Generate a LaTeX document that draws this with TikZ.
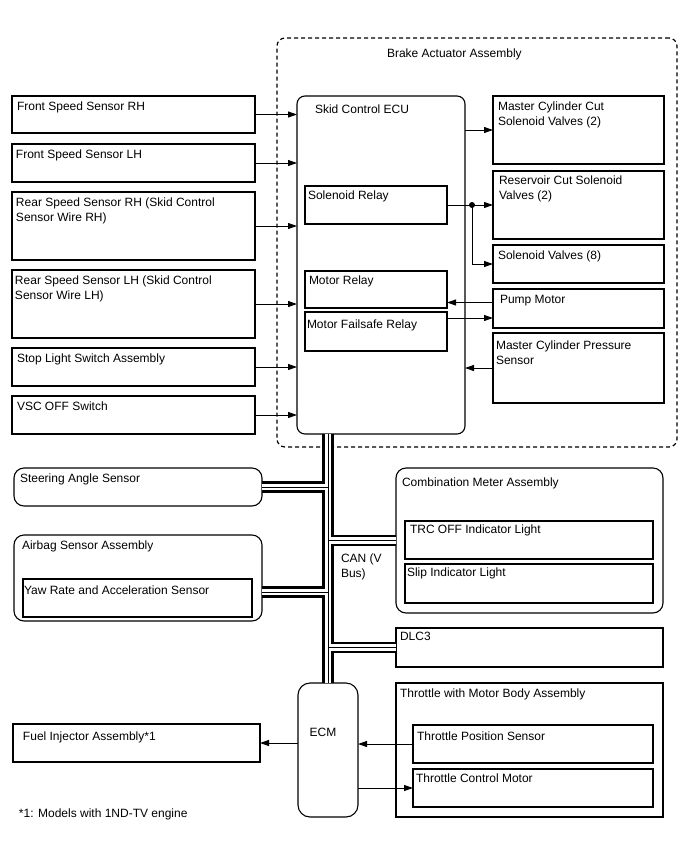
\documentclass[tikz,border=0pt]{standalone}
\usepackage{fontspec}
\setmainfont{Liberation Sans}
\usetikzlibrary{arrows.meta}

\begin{document}
\begin{tikzpicture}[
        x=1pt, y=-1pt,
    line width=1.1pt,
    every node/.style={font=\fontsize{12}{15}\selectfont, outer sep=0pt},
    box/.style={draw, anchor=north west, inner sep=0pt},
    rbox/.style={box, rounded corners=10pt},
    txt/.style={anchor=north west, inner xsep=4pt, inner ysep=6pt, align=left},
    arr/.style={-{Triangle[length=9pt,width=6pt]}, line width=0.9pt},
    bus/.style={line width=11.5pt, postaction={draw=white, line width=6.5pt},
        postaction={draw=black, line width=0.8pt}}
]
\useasboundingbox (0,0) rectangle (688,852);

    \node[rbox, rounded corners=8pt, line width=1.2pt, dash pattern=on 4pt off 3pt,
        minimum width=400pt, minimum height=409pt,
        label={[txt, xshift=106pt, yshift=-4.7pt]north west:Brake Actuator Assembly}] (baa) at (277,38) {};
    \node[rbox, rounded corners=8pt, minimum width=168pt, minimum height=338pt,
        label={[txt, inner xsep=18pt, inner ysep=8.7pt]north west:Skid Control ECU}] (ecu) at (297,96) {};

    \node[box, minimum width=243pt, minimum height=37pt,
        label={[txt, inner xsep=5pt]north west:Front Speed Sensor RH}] (fsrh) at (12,96) {};
    \node[box, minimum width=243pt, minimum height=38pt,
        label={[txt]north west:Front Speed Sensor LH}] (fslh) at (12,144) {};
    \node[box, minimum width=243pt, minimum height=68pt,
        label={[txt]north west:Rear Speed Sensor RH (Skid Control\\Sensor Wire RH)}] (rsrh) at (12,192) {};
    \node[box, minimum width=243pt, minimum height=68pt,
        label={[txt, inner xsep=3pt]north west:Rear Speed Sensor LH (Skid Control\\Sensor Wire LH)}] (rslh) at (12,270) {};
    \node[box, minimum width=243pt, minimum height=38pt,
        label={[txt, inner xsep=5pt]north west:Stop Light Switch Assembly}] (sls) at (12,348) {};
    \node[box, minimum width=243pt, minimum height=38pt,
        label={[txt, inner xsep=5pt]north west:VSC OFF Switch}] (vsc) at (12,396) {};

    \node[box, minimum width=171pt, minimum height=68pt,
        label={[txt, inner xsep=5pt]north west:Master Cylinder Cut\\Solenoid Valves (2)}] (mcc) at (493,96) {};
    \node[box, minimum width=171pt, minimum height=68pt,
        label={[txt, inner xsep=6pt, inner ysep=4.7pt]north west:Reservoir Cut Solenoid\\Valves (2)}] (rcv) at (493,171) {};
    \node[box, minimum width=171pt, minimum height=38pt,
        label={[txt, inner xsep=5pt]north west:Solenoid Valves (8)}] (sv) at (493,245) {};
    \node[box, minimum width=171pt, minimum height=39pt,
        label={[txt, inner xsep=7pt]north west:Pump Motor}] (pm) at (493,289) {};
    \node[box, minimum width=171pt, minimum height=70pt,
        label={[txt, inner xsep=3pt, inner ysep=7.5pt]north west:Master Cylinder Pressure\\Sensor}] (mcps) at (493,333) {};

    \node[box, minimum width=142pt, minimum height=38pt,
        label={[txt, inner xsep=3pt, inner ysep=4.7pt]north west:Solenoid Relay}] (srel) at (305,186) {};
    \node[box, minimum width=142pt, minimum height=37pt,
        label={[txt, inner ysep=4.7pt]north west:Motor Relay}] (mrel) at (305,271) {};
    \node[box, minimum width=142pt, minimum height=39pt,
        label={[txt, inner xsep=2pt, inner ysep=7.5pt]north west:Motor Failsafe Relay}] (mfs) at (305,312) {};

    \node[rbox, minimum width=248pt, minimum height=38pt,
        label={[txt, inner xsep=6pt]north west:Steering Angle Sensor}] (sas) at (14,468) {};
    \node[rbox, minimum width=248pt, minimum height=86pt,
        label={[txt, inner xsep=8pt]north west:Airbag Sensor Assembly}] (asa) at (14,535) {};
    \node[box, minimum width=229pt, minimum height=38pt,
        label={[txt, inner xsep=1pt, inner ysep=6.7pt]north west:Yaw Rate and Acceleration Sensor}] (yaw) at (23,579) {};

    \node[rbox, minimum width=267pt, minimum height=145pt,
        label={[txt, inner xsep=6pt, inner ysep=9.5pt]north west:Combination Meter Assembly}] (cma) at (396,468) {};
    \node[box, minimum width=248pt, minimum height=38pt,
        label={[txt, inner xsep=5pt, inner ysep=3.7pt]north west:TRC OFF Indicator Light}] (trc) at (405,521) {};
    \node[box, minimum width=248pt, minimum height=39pt,
        label={[txt, inner xsep=2pt, inner ysep=3.5pt]north west:Slip Indicator Light}] (slip) at (405,564) {};
    \node[box, minimum width=267pt, minimum height=39pt,
        label={[txt, inner ysep=4.4pt]north west:DLC3}] (dlc) at (396,628) {};

    \node[rbox, rounded corners=12pt, minimum width=60pt, minimum height=134pt,
        label={[txt, anchor=north, xshift=-5pt, yshift=-39pt]north:ECM}] (ecm) at (298,683) {};
    \node[box, minimum width=267pt, minimum height=134pt,
        label={[txt, inner xsep=4pt, inner ysep=5.7pt]north west:Throttle with Motor Body Assembly}] (tmb) at (396,683) {};
    \node[box, minimum width=240pt, minimum height=38pt,
        label={[txt, inner ysep=6.7pt]north west:Throttle Position Sensor}] (tps) at (413,725) {};
    \node[box, minimum width=240pt, minimum height=38pt,
        label={[txt, inner xsep=3pt, inner ysep=4.7pt]north west:Throttle Control Motor}] (tcm) at (413,769) {};
    \node[box, minimum width=247pt, minimum height=38pt,
        label={[txt, inner xsep=10pt, inner ysep=7.5pt]north west:Fuel Injector Assembly*1}] (fia) at (13,724) {};

    \node[txt] (can) at (337,548) {CAN (V\\Bus)};
    \node[anchor=west, inner sep=4pt] (note) at (15,814) {*1: Models with 1ND-TV engine};

    \coordinate (ab) at ([yshift=-14pt]asa.east);
    \draw[bus] (ecm.north) -- (ecm.north |- ecu.south)
        (ecm.north |- sas.east) -- (sas.east)
        (ecm.north |- ab) -- (ab)
        (ecm.north |- cma.west) -- (cma.west)
        (ecm.north |- dlc.west) -- (dlc.west)
    ;

    \foreach \s in {fsrh,fslh,rsrh,rslh,sls,vsc}
        \draw[arr] (\s.east) -- (\s.east -| ecu.west);

    \draw[arr] (mcc.west -| ecu.east) -- (mcc.west);
    \coordinate (jn) at (472,205);
    \draw[arr] (srel.east) -- (rcv.west);
    \draw[arr] (jn) |- (sv.west);
    \fill (jn) circle (3pt);
    \coordinate (pa) at ([yshift=6pt]pm.west);
    \coordinate (pb) at ([yshift=-9.5pt]pm.west);
    \draw[arr] (pa) -- (pa -| mrel.east);
    \draw[arr] (pb -| mfs.east) -- (pb);
    \draw[arr] (mcps.west) -- (mcps.west -| ecu.east);

    \draw[arr] (tps.west) -- (tps.west -| ecm.east);
    \draw[arr] (ecm.east |- tcm.west) -- (tcm.west);
    \draw[arr] (ecm.west |- fia.east) -- (fia.east);
\end{tikzpicture}
\end{document}
